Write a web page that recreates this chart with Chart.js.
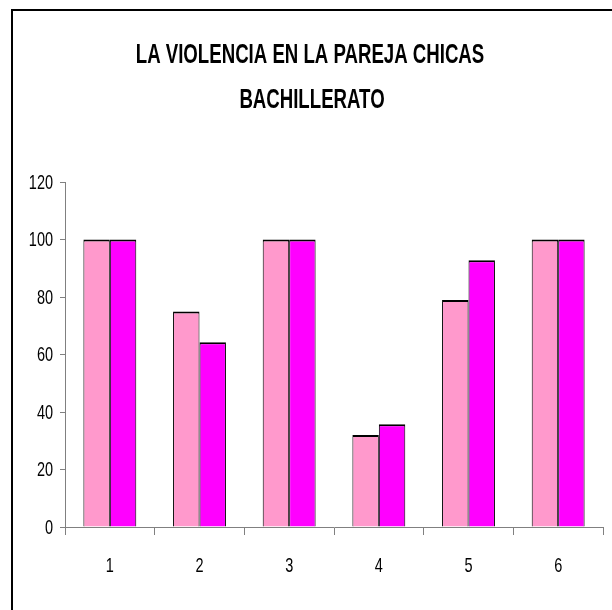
<!DOCTYPE html>
<html>
<head>
<meta charset="utf-8">
<script src="https://cdn.jsdelivr.net/npm/chart.js@4"></script>
<style>
  html, body { margin: 0; padding: 0; background: #fff; }
  #wrap { position: relative; width: 612px; height: 610px; }
</style>
</head>
<body>
<div id="wrap"><canvas id="c" width="612" height="610"></canvas></div>
<script>
const titleLines = ["LA VIOLENCIA EN LA PAREJA CHICAS", "BACHILLERATO"];
const categories = ["1", "2", "3", "4", "5", "6"];
const seriesA = [100, 75, 100, 32, 79, 100];
const seriesB = [100, 64.3, 100, 35.7, 92.8, 100];
const yMin = 0, yMax = 120, yStep = 20;

const FONT = "'Liberation Sans', Arial, sans-serif";
const NARROW = 0.69;   // horizontal condensing to imitate Arial Narrow

function narrowText(ctx, text, x, y, align) {
  ctx.save();
  ctx.translate(x, y);
  ctx.scale(NARROW, 1);
  ctx.textAlign = align;
  ctx.fillText(text, 0, 0);
  ctx.restore();
}

const textPlugin = {
  id: 'narrowText',
  afterDraw(chart) {
    const ctx = chart.ctx;
    ctx.save();
    // frame
    ctx.fillStyle = '#000';
    ctx.fillRect(11, 9, 2, 700);
    ctx.fillRect(11, 9, 700, 2);
    // title
    ctx.font = "bold 27px " + FONT;
    ctx.textBaseline = 'alphabetic';
    narrowText(ctx, titleLines[0], 310, 63, 'center');
    narrowText(ctx, titleLines[1], 312, 108, 'center');
    // y tick labels
    const ys = chart.scales.y;
    ctx.font = "21px " + FONT;
    ctx.textBaseline = 'middle';
    ys.ticks.forEach(t => {
      const py = ys.getPixelForValue(t.value);
      narrowText(ctx, String(t.value), ys.right - 12, py + 1, 'right');
    });
    // x tick labels
    const xs = chart.scales.x;
    xs.ticks.forEach((t, i) => {
      const px = xs.getPixelForTick(i);
      narrowText(ctx, String(xs.getLabelForValue(t.value)), px, xs.top + 39, 'center');
    });
    ctx.restore();
  }
};

new Chart(document.getElementById('c'), {
  type: 'bar',
  data: {
    labels: categories,
    datasets: [
      { data: seriesA, backgroundColor: '#FF99CC', borderColor: '#000',
        borderWidth: { top: 2, left: 1, right: 1, bottom: 0 }, borderSkipped: false },
      { data: seriesB, backgroundColor: '#FF00FF', borderColor: '#000',
        borderWidth: { top: 2, left: 1, right: 1, bottom: 0 }, borderSkipped: false }
    ]
  },
  options: {
    responsive: false,
    animation: false,
    devicePixelRatio: 1,
    layout: { padding: { left: 0, right: 9, top: 182, bottom: 0 } },
    datasets: { bar: { barPercentage: 1, categoryPercentage: 0.59 } },
    plugins: {
      legend: { display: false },
      tooltip: { enabled: false },
      title: { display: false }
    },
    scales: {
      x: {
        grid: { display: true, drawOnChartArea: false, drawTicks: true, tickLength: 8, color: '#808080', offset: true },
        border: { display: true, color: '#808080', width: 1 },
        ticks: { display: false },
        afterFit(scale) { scale.height = 83; }
      },
      y: {
        min: yMin, max: yMax,
        grid: { display: true, drawOnChartArea: false, drawTicks: true, tickLength: 5, color: '#808080' },
        border: { display: true, color: '#808080', width: 1 },
        ticks: { stepSize: yStep, display: false },
        afterFit(scale) { scale.width = 65; }
      }
    }
  },
  plugins: [textPlugin]
});
</script>
</body>
</html>
